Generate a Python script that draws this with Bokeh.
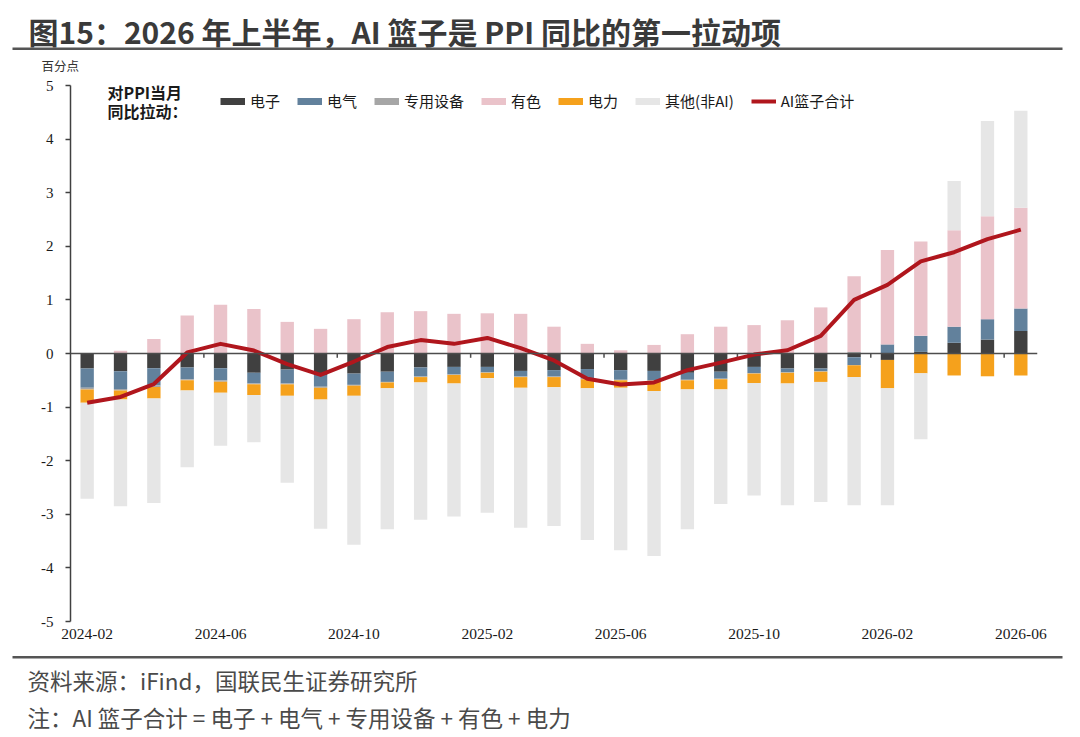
import numpy as np
from bokeh.plotting import figure
from bokeh.layouts import column, row
from bokeh.models import (Range1d, FixedTicker, Span, Label, Legend, LegendItem,
                          BoxAnnotation, ColumnDataSource)
from bokeh.embed import file_html
from bokeh.resources import INLINE

# ---------------- data ----------------
months = ["2024-02", "2024-03", "2024-04", "2024-05", "2024-06", "2024-07", "2024-08",
          "2024-09", "2024-10", "2024-11", "2024-12", "2025-01", "2025-02", "2025-03",
          "2025-04", "2025-05", "2025-06", "2025-07", "2025-08", "2025-09", "2025-10",
          "2025-11", "2025-12", "2026-01", "2026-02", "2026-03", "2026-04", "2026-05",
          "2026-06"]
electronics = [-0.28, -0.33, -0.275, -0.26, -0.275, -0.36, -0.30, -0.40, -0.375, -0.34,
               -0.26, -0.25, -0.25, -0.325, -0.31, -0.29, -0.31, -0.325, -0.36, -0.34,
               -0.25, -0.28, -0.28, -0.07, -0.12, 0.03, 0.20, 0.26, 0.42]
electrical = [-0.36, -0.33, -0.32, -0.22, -0.23, -0.20, -0.26, -0.22, -0.21, -0.19,
              -0.17, -0.14, -0.10, -0.105, -0.12, -0.18, -0.18, -0.175, -0.13, -0.13,
              -0.115, -0.07, -0.05, -0.15, 0.17, 0.30, 0.30, 0.38, 0.42]
special_equipment = [-0.03, -0.03, -0.03, -0.02, -0.02, -0.015, -0.015, -0.02, -0.015, -0.01,
                     -0.01, -0.01, -0.01, -0.01, -0.01, -0.01, -0.01, -0.01, -0.01, -0.01,
                     -0.01, -0.01, -0.01, 0.03, 0.0, 0.0, 0.0, 0.0, 0.0]
nonferrous = [0.0, 0.05, 0.27, 0.71, 0.91, 0.83, 0.59, 0.46, 0.64, 0.77,
              0.79, 0.74, 0.75, 0.74, 0.50, 0.18, 0.06, 0.16, 0.36, 0.50,
              0.53, 0.62, 0.86, 1.41, 1.76, 1.76, 1.80, 1.92, 1.88]
power = [-0.25, -0.17, -0.215, -0.19, -0.205, -0.20, -0.215, -0.22, -0.19, -0.11,
         -0.10, -0.16, -0.10, -0.20, -0.19, -0.17, -0.14, -0.19, -0.17, -0.19,
         -0.175, -0.20, -0.19, -0.22, -0.53, -0.37, -0.41, -0.425, -0.41]
others = [-1.79, -1.99, -1.95, -1.43, -0.99, -0.88, -1.62, -2.41, -2.78, -2.63,
          -2.56, -2.48, -2.51, -2.61, -2.59, -2.83, -3.03, -3.08, -2.61, -2.14,
          -2.10, -2.27, -2.24, -2.39, -2.18, -1.23, 0.92, 1.78, 1.81]
series_names = ["电子", "电气", "专用设备", "有色", "电力", "其他(非AI)"]
line_name = "AI篮子合计"
tick_months = ["2024-02", "2024-06", "2024-10", "2025-02", "2025-06", "2025-10",
               "2026-02", "2026-06"]
y_ticks = [-5, -4, -3, -2, -1, 0, 1, 2, 3, 4, 5]

title_text = "图15：2026 年上半年，AI 篮子是 PPI 同比的第一拉动项"
unit_text = "百分点"
legend_head = ["对PPI当月", "同比拉动："]
source_text = "资料来源：iFind，国联民生证券研究所"
note_text = "注：AI 篮子合计 = 电子 + 电气 + 专用设备 + 有色 + 电力"

# ---------------- styling ----------------
colors = ["#404040", "#62819c", "#a6a6a6", "#eac3ca", "#f5a11c", "#e6e6e6"]
line_color = "#b0161d"
CJK = "Noto Sans CJK SC"
SERIF = "Liberation Serif"
TEXT_DARK = "#3a3a3a"
RULE = "#555555"

W = 1080
HEAD_H, FOOT_H = 76, 84
ML, MR, MT, MB = 70, 43, 9, 30
FH = 536
MAIN_H = MT + FH + MB
n = len(months)
xs = np.arange(n)


def blank(height):
    f = figure(width=W, height=height, output_backend="svg", toolbar_location=None,
               title=None, x_range=Range1d(0, W), y_range=Range1d(height, 0),
               min_border=0, min_border_left=0, min_border_right=0,
               min_border_top=0, min_border_bottom=0)
    f.axis.visible = False
    f.grid.visible = False
    f.outline_line_color = None
    f.background_fill_color = "white"
    f.border_fill_color = "white"
    return f

# ---------------- header ----------------
head = blank(HEAD_H)
head.add_layout(Label(x=28, y=30, text=title_text, text_font=CJK, text_font_size="30px",
                      text_font_style="bold", text_color=TEXT_DARK,
                      text_baseline="middle", text_align="left"))
head.add_layout(BoxAnnotation(left=12, right=1062, top=47, bottom=49.5,
                              fill_color=RULE, fill_alpha=1, line_color=None))
head.add_layout(Label(x=41, y=65, text=unit_text, text_font=CJK, text_font_size="12.5px",
                      text_color="#333333", text_baseline="middle", text_align="left"))

# ---------------- main chart ----------------
p = figure(width=W, height=MAIN_H, output_backend="svg", toolbar_location=None, title=None,
           x_range=Range1d(-0.5, n - 0.5), y_range=Range1d(-5, 5),
           min_border_left=ML, min_border_right=MR, min_border_top=MT, min_border_bottom=MB)
p.xgrid.visible = False
p.ygrid.visible = False
p.outline_line_color = None
p.background_fill_color = "white"
p.border_fill_color = "white"

vals = [electronics, electrical, special_equipment, nonferrous, power, others]
pos = np.zeros(n)
neg = np.zeros(n)
for name, v, c in zip(series_names, vals, colors):
    v = np.asarray(v, dtype=float)
    bottom = np.where(v >= 0, pos, neg)
    top = bottom + v
    pos = np.where(v >= 0, top, pos)
    neg = np.where(v < 0, top, neg)
    src = ColumnDataSource(dict(x=xs, bottom=bottom, top=top))
    p.vbar(x="x", bottom="bottom", top="top", width=0.4, source=src,
           fill_color=c, line_color=None)

p.add_layout(Span(location=0, dimension="width", line_color="#4d4d4d", line_width=1.5))
tick_idx = [months.index(m) for m in tick_months]
tx = [i - 0.5 for i in tick_idx[1:]]
p.segment(x0=tx, y0=[0] * len(tx), x1=tx, y1=[-0.08] * len(tx),
          line_color="#4d4d4d", line_width=1.5)

total = np.sum(np.array(vals[:5], dtype=float), axis=0)
line_r = p.line(xs, total, line_color=line_color, line_width=4, line_join="round")

p.xaxis.ticker = FixedTicker(ticks=tick_idx)
p.xaxis.major_label_overrides = {i: m for i, m in zip(tick_idx, tick_months)}
p.xaxis.axis_line_color = None
p.xaxis.major_tick_line_color = None
p.xaxis.minor_tick_line_color = None
p.xaxis.major_tick_out = 0
p.xaxis.major_label_standoff = 7
p.xaxis.major_label_text_font = SERIF
p.xaxis.major_label_text_font_size = "15.5px"
p.xaxis.major_label_text_color = "#1a1a1a"

p.yaxis.ticker = FixedTicker(ticks=y_ticks)
p.yaxis.major_label_overrides = {t: str(t) for t in y_ticks}
p.yaxis.axis_line_color = "#404040"
p.yaxis.axis_line_width = 1.5
p.yaxis.major_tick_line_color = "#404040"
p.yaxis.major_tick_line_width = 1.5
p.yaxis.major_tick_out = 5
p.yaxis.major_tick_in = 0
p.yaxis.minor_tick_line_color = None
p.yaxis.major_label_standoff = 12
p.yaxis.major_label_text_font = SERIF
p.yaxis.major_label_text_font_size = "15px"
p.yaxis.major_label_text_color = "#1a1a1a"

items = []
for name, c in zip(series_names, colors):
    proxy = p.line(x=[0], y=[np.nan], line_color=c, line_width=7, line_cap="butt")
    items.append(LegendItem(label=name, renderers=[proxy]))
items.append(LegendItem(label=line_name, renderers=[line_r]))
legend = Legend(items=items, orientation="horizontal", location=(150, 510),
                glyph_width=25, glyph_height=20, label_height=20, label_standoff=5,
                spacing=17, padding=0, margin=0, border_line_color=None,
                background_fill_alpha=0, label_text_font=CJK,
                label_text_font_size="15px", label_text_color="#1a1a1a")
p.add_layout(legend)


def dy(yp):  # page y (inside frame) -> data value
    return 5 - (yp - (HEAD_H + MT)) * 10 / FH


def dx(xp):
    return -0.5 + (xp - ML) * n / (W - ML - MR)


p.add_layout(Label(x=dx(107), y=dy(91), text=legend_head[0], text_font=CJK,
                   text_font_size="16px", text_font_style="bold", text_color="#1a1a1a",
                   text_baseline="middle", text_align="left"))
p.add_layout(Label(x=dx(107), y=dy(110), text=legend_head[1], text_font=CJK,
                   text_font_size="16px", text_font_style="bold", text_color="#1a1a1a",
                   text_baseline="middle", text_align="left"))

# ---------------- footer ----------------
foot = blank(FOOT_H)
foot.add_layout(BoxAnnotation(left=12, right=1062, top=4.5, bottom=7,
                              fill_color=RULE, fill_alpha=1, line_color=None))
foot.add_layout(Label(x=27, y=28, text=source_text, text_font=CJK, text_font_size="22.5px",
                      text_color="#4a4a4a", text_baseline="middle", text_align="left"))
foot.add_layout(Label(x=27, y=65, text=note_text, text_font=CJK, text_font_size="22.5px",
                      text_color="#4a4a4a", text_baseline="middle", text_align="left"))

layout = column(row(head), p, row(foot), spacing=0)
open("out.html", "w").write(file_html(layout, INLINE))
